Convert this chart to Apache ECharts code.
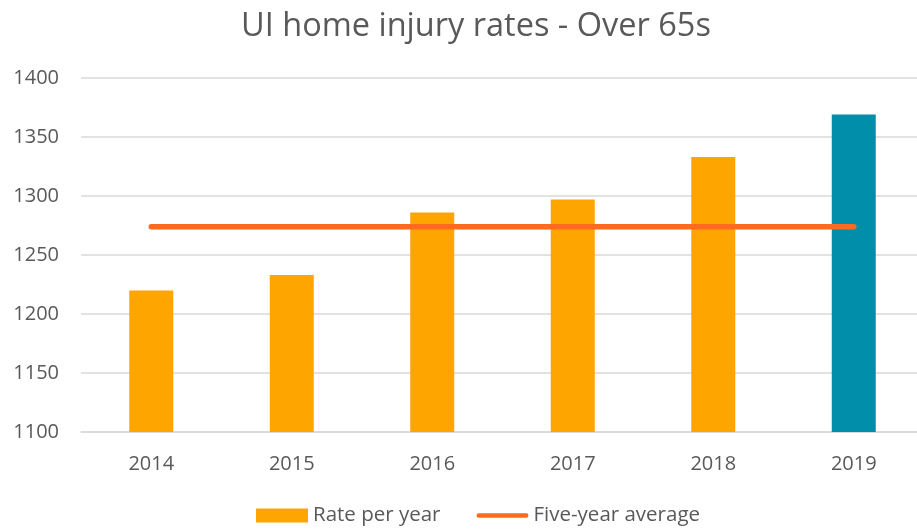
<!DOCTYPE html>
<html>
<head>
<meta charset="utf-8">
<script src="https://cdn.jsdelivr.net/npm/echarts@6/dist/echarts.min.js"></script>
<style>
  html, body { margin: 0; padding: 0; background: #fff; overflow: hidden; }
  /* plot area runs slightly past the right edge, as in the source image */
  #chart { width: 924px; height: 531px; }
</style>
</head>
<body>
<div id="chart"></div>
<script>
// Chart data
var years = ['2014', '2015', '2016', '2017', '2018', '2019'];
var ratePerYear = [1220, 1233, 1286, 1297, 1333, 1369];
var fiveYearAverage = [1274, 1274, 1274, 1274, 1274, 1274];
var yTicks = [1100, 1150, 1200, 1250, 1300, 1350, 1400];

var fontName = 'Open Sans';
var textColor = '#595959';

var barData = ratePerYear.map(function (v, i) {
  // latest year is highlighted
  if (i === ratePerYear.length - 1) {
    return { value: v, itemStyle: { color: '#008EAA' } };
  }
  return v;
});

var myChart = echarts.init(document.getElementById('chart'));

var option = {
  animation: false,
  textStyle: { fontFamily: fontName },
  title: {
    text: 'UI home injury rates - Over 65s',
    left: 236,
    top: 5,
    textStyle: { fontFamily: fontName, fontSize: 32.5, fontWeight: 'normal', color: textColor }
  },
  legend: {
    bottom: 0,
    left: 251,
    itemGap: 36,
    itemWidth: 52,
    itemHeight: 14,
    textStyle: { fontFamily: fontName, fontSize: 20.5, color: textColor },
    data: [
      { name: 'Rate per year', icon: 'rect', itemStyle: { color: '#FFA500' } },
      {
        name: 'Five-year average',
        icon: 'path://M2.5,0 L52.5,0 A2.5,2.5 0 0 1 52.5,5 L2.5,5 A2.5,2.5 0 0 1 2.5,0 Z',
        itemStyle: { color: '#FF6A1F' }
      }
    ]
  },
  grid: {
    left: 81,
    top: 78,
    right: 0,
    height: 354,
    containLabel: false
  },
  xAxis: {
    type: 'category',
    data: years,
    axisLine: { lineStyle: { color: '#D9D9D9', width: 1.5 } },
    axisTick: { show: false },
    axisLabel: { fontSize: 20, color: textColor, margin: 22 }
  },
  yAxis: {
    type: 'value',
    min: yTicks[0],
    max: yTicks[yTicks.length - 1],
    interval: 50,
    axisLine: { show: false },
    axisTick: { show: false },
    axisLabel: {
      fontSize: 20, color: textColor, margin: 22,
      formatter: function (v) { return String(v); }
    },
    splitLine: { lineStyle: { color: '#D9D9D9', width: 1.5 } }
  },
  series: [
    {
      name: 'Rate per year',
      type: 'bar',
      data: barData,
      barWidth: 44,
      itemStyle: { color: '#FFA500' }
    },
    {
      name: 'Five-year average',
      type: 'line',
      data: fiveYearAverage,
      symbol: 'none',
      lineStyle: { color: '#FF6A1F', width: 5.5, cap: 'round' },
      itemStyle: { color: '#FF6A1F' }
    }
  ]
};

myChart.setOption(option);
</script>
</body>
</html>
